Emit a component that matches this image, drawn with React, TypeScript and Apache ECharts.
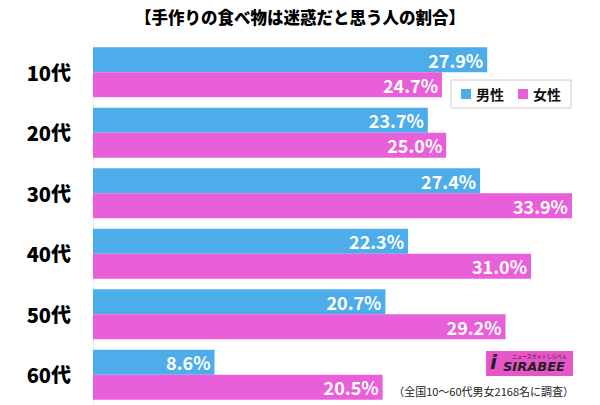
import React, { useEffect, useRef } from "react";
import * as echarts from "echarts";

const categories = ["10代", "20代", "30代", "40代", "50代", "60代"];
const maleValues = [27.9, 23.7, 27.4, 22.3, 20.7, 8.6];
const femaleValues = [24.7, 25.0, 33.9, 31.0, 29.2, 20.5];
const seriesNames = ["男性", "女性"];
const titleText = "【手作りの食べ物は迷惑だと思う人の割合】";
const noteText = "（全国10～60代男女2168名に調査）";

const FONT = "'Noto Sans CJK JP', 'Noto Sans', sans-serif";
const BLUE = "#4dadea";
const PINK = "#e95fd9";

export default function App() {
  const ref = useRef<HTMLDivElement>(null);
  useEffect(() => {
    if (!ref.current) return;
    const chart = echarts.init(ref.current, undefined, { renderer: "svg" });
    const label = {
      show: true,
      position: "insideRight",
      color: "#fff",
      fontFamily: FONT,
      fontWeight: "bold",
      fontSize: 18,
      distance: 4,
      formatter: (p: any) => p.value.toFixed(1) + "%",
    };
    chart.setOption({
      animation: false,
      backgroundColor: "#fff",
      textStyle: { fontFamily: FONT },
      title: {
        text: titleText,
        left: "center",
        top: 4,
        textStyle: { fontFamily: FONT, fontWeight: 900, fontSize: 16.5, color: "#000" },
      },
      legend: {
        data: seriesNames,
        right: 29,
        top: 80,
        orient: "horizontal",
        itemWidth: 10,
        itemHeight: 10,
        itemGap: 14,
        padding: [7, 10, 7, 10],
        borderColor: "#ccc",
        borderWidth: 1,
        backgroundColor: "#fff",
        icon: "rect",
        textStyle: { fontFamily: FONT, fontWeight: "bold", fontSize: 14, color: "#111" },
      },
      grid: { left: 93, right: 12.5, top: 42, bottom: 0, containLabel: false },
      xAxis: {
        type: "value",
        min: 0,
        max: 35,
        show: false,
      },
      yAxis: {
        type: "category",
        data: categories,
        inverse: true,
        axisTick: { show: false },
        axisLine: { show: true, lineStyle: { color: "#eeeeee" } },
        axisLabel: {
          margin: 22,
          color: "#000",
          fontFamily: FONT,
          fontWeight: 900,
          fontSize: 20,
        },
      },
      series: [
        {
          name: seriesNames[0],
          type: "bar",
          data: maleValues,
          barWidth: 25,
          barGap: "0%",
          itemStyle: { color: BLUE },
          label,
        },
        {
          name: seriesNames[1],
          type: "bar",
          data: femaleValues,
          barWidth: 25,
          barGap: "0%",
          itemStyle: { color: PINK },
          label,
        },
      ],
      graphic: [
        {
          type: "rect",
          left: 486,
          top: 351,
          shape: { width: 87, height: 25 },
          style: { fill: "#e855c8" },
        },
        {
          type: "text",
          left: 512,
          top: 353,
          style: { text: "ニュースサイトしらべぇ", fill: "#222", fontSize: 5, fontFamily: FONT },
        },
        {
          type: "text",
          left: 503,
          top: 360,
          style: {
            text: "SIRABEE",
            fill: "#222",
            fontSize: 13,
            fontWeight: "bold",
            fontStyle: "italic",
            fontFamily: "'DejaVu Sans', sans-serif",
          },
        },
        {
          type: "text",
          left: 490,
          top: 352,
          style: { text: "i", fill: "#222", fontSize: 20, fontWeight: "bold", fontStyle: "italic", fontFamily: "'DejaVu Sans', sans-serif" },
        },
        {
          type: "text",
          right: 26,
          top: 385,
          style: { text: noteText, fill: "#222", fontSize: 11, fontFamily: FONT },
        },
      ],
    });
    return () => chart.dispose();
  }, []);
  return <div ref={ref} style={{ width: 600, height: 405, position: "fixed", left: 0, top: 0 }} />;
}
